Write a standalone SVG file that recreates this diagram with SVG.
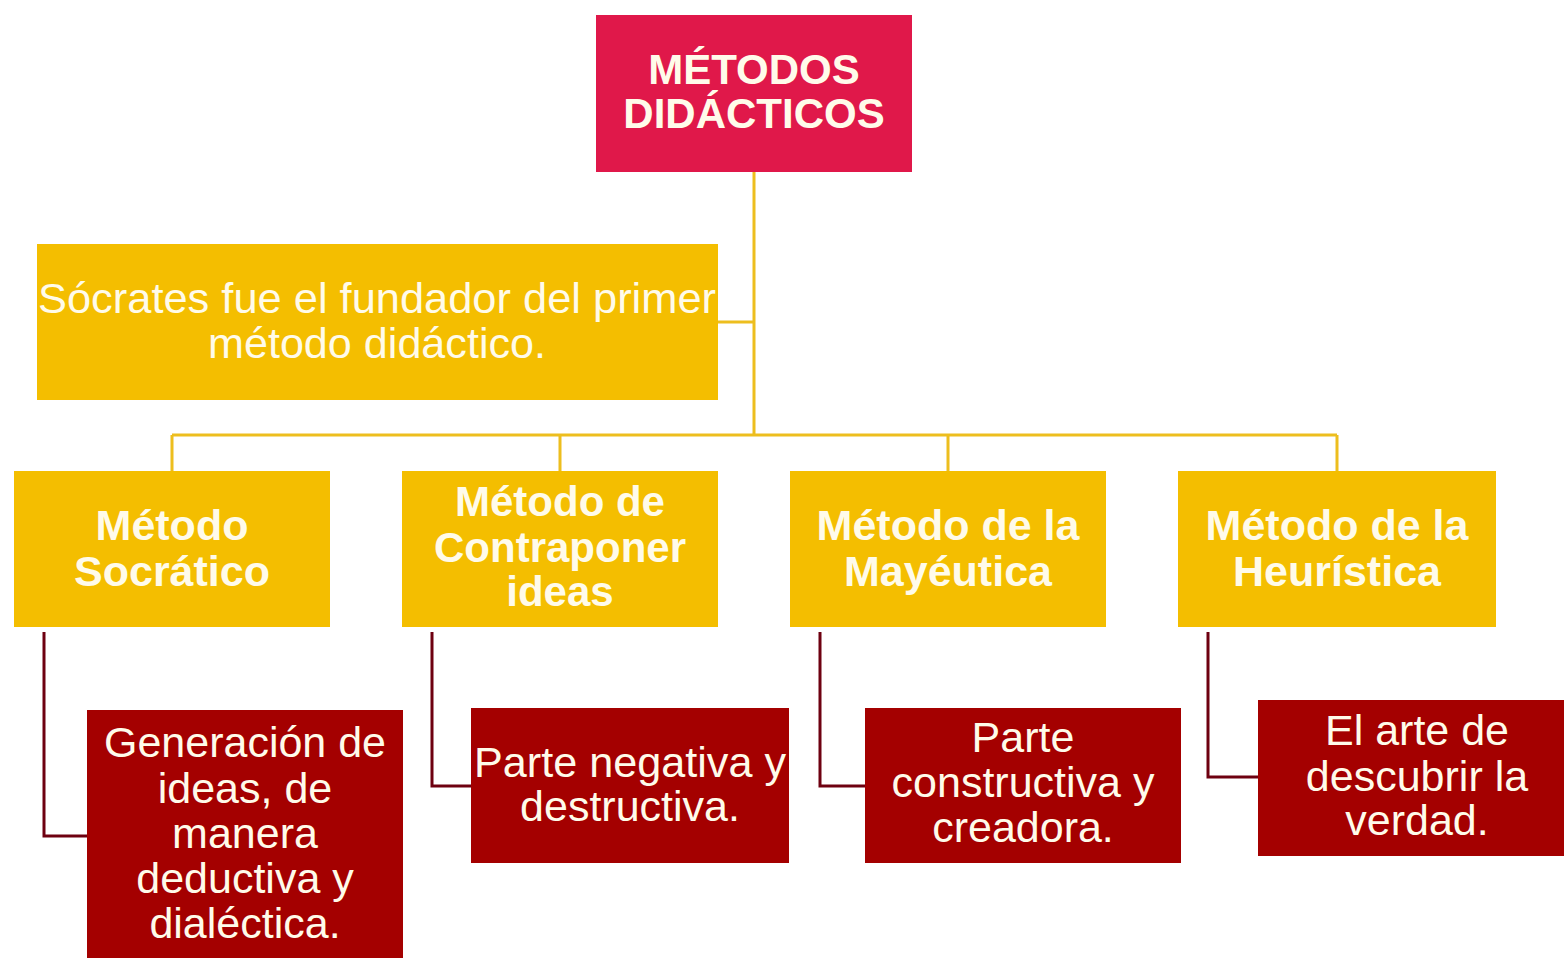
<svg xmlns="http://www.w3.org/2000/svg" width="1564" height="958" viewBox="0 0 1564 958">
<style>
.top{fill:#E0184A}
.yel{fill:#F4BE00}
.red{fill:#A40000}
.t{font-family:"Liberation Sans",Arial,sans-serif;fill:#FFFBEA;text-anchor:middle}
.b{font-weight:bold}
.cy{stroke:#EDBE1E;stroke-width:3;fill:none}
.cr{stroke:#6E0010;stroke-width:3;fill:none}
</style>
<rect width="1564" height="958" fill="#FFFFFF"/>
<g id="connectors">
<path class="cy" d="M754 172 V435 M172 435 H1337 M172 435 V471 M560 435 V471 M948 435 V471 M1337 435 V471 M718 322 H754"/>
<path class="cr" d="M44 632 V836 H87 M432 632 V786 H471 M820 632 V786 H865 M1208 632 V777 H1258"/>
</g>
<g id="root">
<rect class="top" x="596" y="15" width="316" height="157"/>
<text class="t b" x="754" y="84" font-size="42">MÉTODOS</text>
<text class="t b" x="754" y="128" font-size="42">DIDÁCTICOS</text>
</g>
<g id="socrates-note">
<rect class="yel" x="37" y="244" width="681" height="156"/>
<text class="t" x="377" y="313" font-size="42" textLength="678" lengthAdjust="spacingAndGlyphs">Sócrates fue el fundador del primer</text>
<text class="t" x="377" y="358" font-size="42" textLength="338" lengthAdjust="spacingAndGlyphs">método didáctico.</text>
</g>
<g id="socratico">
<rect class="yel" x="14" y="471" width="316" height="156"/>
<text class="t b" x="172" y="540" font-size="43">Método</text>
<text class="t b" x="172" y="586" font-size="43">Socrático</text>
</g>
<g id="contraponer">
<rect class="yel" x="402" y="471" width="316" height="156"/>
<text class="t b" x="560" y="516" font-size="42">Método de</text>
<text class="t b" x="560" y="562" font-size="42">Contraponer</text>
<text class="t b" x="560" y="606" font-size="42">ideas</text>
</g>
<g id="mayeutica">
<rect class="yel" x="790" y="471" width="316" height="156"/>
<text class="t b" x="948" y="540" font-size="43">Método de la</text>
<text class="t b" x="948" y="586" font-size="43">Mayéutica</text>
</g>
<g id="heuristica">
<rect class="yel" x="1178" y="471" width="318" height="156"/>
<text class="t b" x="1337" y="540" font-size="43">Método de la</text>
<text class="t b" x="1337" y="586" font-size="43">Heurística</text>
</g>
<g id="generacion">
<rect class="red" x="87" y="710" width="316" height="248"/>
<text class="t" x="245" y="757" font-size="43">Generación de</text>
<text class="t" x="245" y="803" font-size="43">ideas, de</text>
<text class="t" x="245" y="848" font-size="43">manera</text>
<text class="t" x="245" y="893" font-size="43">deductiva y</text>
<text class="t" x="245" y="938" font-size="43">dialéctica.</text>
</g>
<g id="negativa">
<rect class="red" x="471" y="708" width="318" height="155"/>
<text class="t" x="630" y="777" font-size="43" textLength="312" lengthAdjust="spacingAndGlyphs">Parte negativa y</text>
<text class="t" x="630" y="821" font-size="43">destructiva.</text>
</g>
<g id="constructiva">
<rect class="red" x="865" y="708" width="316" height="155"/>
<text class="t" x="1023" y="752" font-size="43">Parte</text>
<text class="t" x="1023" y="797" font-size="43">constructiva y</text>
<text class="t" x="1023" y="842" font-size="43">creadora.</text>
</g>
<g id="verdad">
<rect class="red" x="1258" y="700" width="306" height="156"/>
<text class="t" x="1417" y="745" font-size="43">El arte de</text>
<text class="t" x="1417" y="791" font-size="43">descubrir la</text>
<text class="t" x="1417" y="835" font-size="43">verdad.</text>
</g>
</svg>
